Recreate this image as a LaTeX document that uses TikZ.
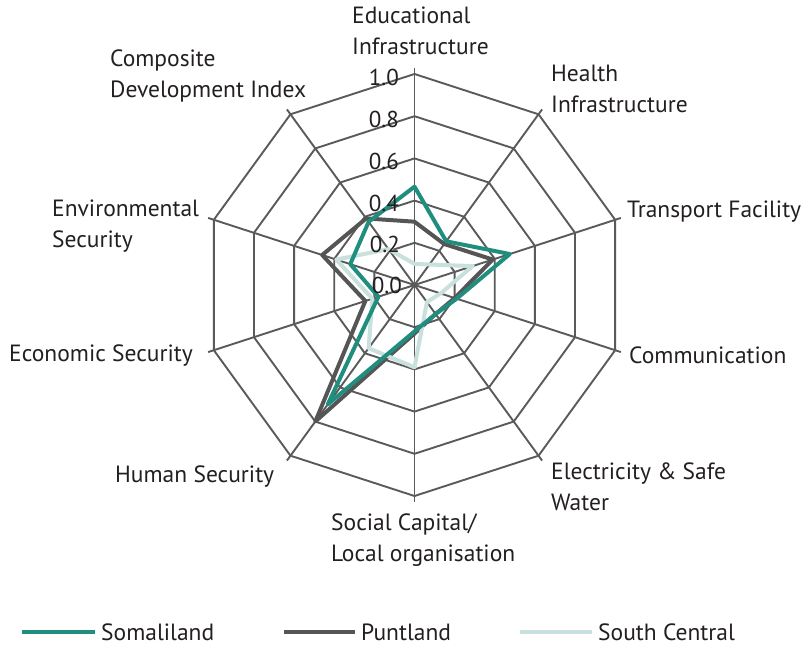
\documentclass[tikz,border=0pt]{standalone}
\usepackage{fontspec}
\setmainfont{PT Sans}
\definecolor{somali}{RGB}{32,142,126}
\definecolor{punt}{RGB}{85,85,85}
\definecolor{scentral}{RGB}{201,225,220}
\definecolor{gridc}{RGB}{90,90,90}
\definecolor{txt}{RGB}{35,31,32}
\begin{document}
\begin{tikzpicture}[x=1pt,y=1pt,
  gridline/.style={draw=gridc,line width=1.9pt},
  series/.style={line width=4pt,line join=round},
  lbl/.style={anchor=north west,inner sep=0pt,align=left,text=txt,font=\fontsize{23.5}{30.5}\selectfont},
  ticklbl/.style={anchor=east,inner sep=0pt,text=txt,font=\fontsize{23}{26}\selectfont},
  legtxt/.style={anchor=west,inner sep=0pt,text=txt,font=\fontsize{23.5}{26}\selectfont}]
\useasboundingbox (0,0) rectangle (801,646);
\def\RR{211}
\begin{scope}[shift={(414.5,361)}]
  \foreach \r in {0.2,0.4,0.6,0.8,1.0} {
    \draw[gridline] (90:{\r*\RR}) \foreach \a in {54,18,-18,-54,-90,-126,-162,162,126} { -- (\a:{\r*\RR}) } -- cycle;
  }
  \foreach \a in {90,54,18,-18,-54,-90,-126,-162,162,126} {
    \draw[gridline] (0,0) -- (\a:{\RR+6});
  }
  % Puntland
  \draw[series,punt] (90:{0.30*\RR}) -- (54:{0.24*\RR}) -- (18:{0.39*\RR}) -- (-18:{0.20*\RR}) -- (-54:{0.17*\RR}) -- (-90:{0.23*\RR}) -- (-126:{0.80*\RR}) -- (-162:{0.245*\RR}) -- (162:{0.46*\RR}) -- (126:{0.39*\RR}) -- cycle;
  % South Central
  \draw[series,scentral] (90:{0.10*\RR}) -- (54:{0.12*\RR}) -- (18:{0.29*\RR}) -- (-18:{0.13*\RR}) -- (-54:{0.10*\RR}) -- (-90:{0.39*\RR}) -- (-126:{0.37*\RR}) -- (-162:{0.21*\RR}) -- (162:{0.39*\RR}) -- (126:{0.21*\RR}) -- cycle;
  % Somaliland
  \draw[series,somali] (90:{0.466*\RR}) -- (54:{0.256*\RR}) -- (18:{0.475*\RR}) -- (-18:{0.21*\RR}) -- (-54:{0.17*\RR}) -- (-90:{0.22*\RR}) -- (-126:{0.70*\RR}) -- (-162:{0.18*\RR}) -- (162:{0.32*\RR}) -- (126:{0.37*\RR}) -- cycle;
\end{scope}
% value axis labels
\node[ticklbl] (t10) at (399,569) {1.0};
\node[ticklbl] (t08) at (399,527) {0.8};
\node[ticklbl] (t06) at (399,485) {0.6};
\node[ticklbl] (t04) at (399,443) {0.4};
\node[ticklbl] (t02) at (400,402) {0.2};
\node[ticklbl] (t00) at (402,361) {0.0};
% category labels
\node[lbl] (edu) at (352,639) {Educational\\Infrastructure};
\node[lbl] (hea) at (551,581) {Health\\Infrastructure};
\node[lbl] (tra) at (627,445) {Transport Facility};
\node[lbl] (com) at (629,299) {Communication};
\node[lbl] (ele) at (551,183) {Electricity \& Safe\\Water};
\node[lbl] (soc) at (331,132) {Social Capital/\\Local organisation};
\node[lbl] (hum) at (115,180) {Human Security};
\node[lbl] (eco) at (9,301) {Economic Security};
\node[lbl] (env) at (52,446) {Environmental\\Security};
\node[lbl] (cdi) at (110,596) {Composite\\Development Index};
% legend
\coordinate (l1a) at (22,14); \coordinate (l1b) at (95,14);
\coordinate (l2a) at (284,14); \coordinate (l2b) at (355,14);
\coordinate (l3a) at (520,14); \coordinate (l3b) at (592,14);
\draw[line width=4.5pt,somali] (l1a) -- (l1b);
\draw[line width=4.5pt,punt] (l2a) -- (l2b);
\draw[line width=4.5pt,scentral] (l3a) -- (l3b);
\node[legtxt] (lg1) at (101,14) {Somaliland};
\node[legtxt] (lg2) at (361,14) {Puntland};
\node[legtxt] (lg3) at (598,14) {South Central};
\end{tikzpicture}
\end{document}
